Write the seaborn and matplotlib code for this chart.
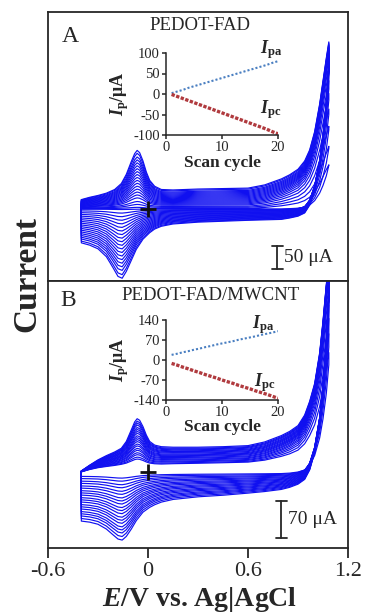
import numpy as np
import pandas as pd
import matplotlib
matplotlib.use('Agg')
import matplotlib.pyplot as plt
import seaborn as sns

# ---- inset data: peak currents per scan cycle ----
CYCLES = list(range(1, 21))
IPA_A = [2, 6, 10, 15, 19, 23, 27, 31, 35, 39, 43, 47, 51, 55, 59, 63, 67, 71, 76, 80]
IPC_A = [-1, -6, -11, -16, -21, -26, -31, -36, -41, -46, -51, -56, -61, -66, -71, -76, -81, -86, -92, -97]
IPA_B = [18, 22, 27, 31, 36, 40, 45, 49, 54, 58, 62, 66, 71, 75, 79, 83, 88, 92, 96, 101]
IPC_B = [-12, -18, -25, -31, -38, -44, -51, -57, -63, -70, -76, -82, -89, -95, -101, -108, -114, -120, -127, -134]

# monomer oxidation tail, relative size per cycle
TAIL_SCALE_A = [0.30, 0.42, 0.55, 0.66, 0.76, 0.84, 0.90, 0.94, 0.97, 0.99,
                1.0, 1.0, 1.0, 1.0, 1.0, 1.0, 1.0, 1.0, 1.0, 1.0]
TAIL_SCALE_B = [0.60, 0.70, 0.78, 0.85, 0.90, 0.94, 0.97, 0.99, 1.0, 1.0,
                1.0, 1.0, 1.0, 1.0, 1.0, 1.0, 1.0, 1.0, 1.0, 1.0]

# ---- CV profiles (uA) ----
E_FWD = [-0.40, -0.35, -0.30, -0.25, -0.20, -0.16, -0.13, -0.10, -0.08, -0.065,
         -0.05, -0.03, -0.01, 0.01, 0.04, 0.08, 0.15, 0.30, 0.45, 0.60,
         0.70, 0.80, 0.85, 0.90, 0.94, 0.97, 1.00, 1.03, 1.05, 1.07, 1.085]
E_REV = [1.085, 1.07, 1.05, 1.03, 1.00, 0.97, 0.94, 0.90, 0.85, 0.80,
         0.70, 0.60, 0.45, 0.30, 0.15, 0.08, 0.04, 0.01, -0.03, -0.07,
         -0.10, -0.13, -0.155, -0.18, -0.21, -0.25, -0.30, -0.35, -0.40]

FILM_A_FWD = [20, 25, 29, 34, 42, 55, 75, 103, 120, 127,
              122, 104, 80, 62, 49, 42, 41, 43, 44, 45,
              46, 47, 47, 48, 48, 48, 48, 48, 48, 48, 48]
TAIL_A_FWD = [0] * 20 + [6, 18, 27, 38, 56, 80, 120, 180, 230, 280, 315]
FILM_A_REV = [-14, -17, -19, -20, -20, -20, -21, -21, -22, -23,
              -24, -25, -27, -29, -33, -38, -44, -52, -66, -88,
              -112, -136, -151, -147, -128, -104, -87, -79, -74]
TAIL_A_REV = [315, 240, 170, 115, 60, 28, 12, 5, 2, 0] + [0] * 19

FILM_B_FWD = [2, 10, 18, 25, 31, 37, 50, 72, 87, 93,
              90, 78, 62, 50, 43, 40, 38, 37, 37, 38,
              40, 41, 41, 41, 41, 41, 41, 41, 41, 41, 41]
BASE_B_FWD = [0, 3, 5, 6, 7, 8, 8, 8, 8, 8,
              8, 8, 8, 8, 8, 8, 9, 10, 11, 12,
              13, 14, 14, 15, 15, 15, 15, 15, 15, 15, 15]
TAIL_B_FWD = [0] * 20 + [4, 14, 22, 32, 52, 78, 112, 170, 230, 300, 340]
FILM_B_REV = [-8, -10, -13, -15, -18, -21, -24, -27, -30, -33,
              -37, -40, -44, -47, -52, -57, -62, -67, -76, -92,
              -108, -122, -129, -127, -119, -108, -99, -95, -93]
TAIL_B_REV = [340, 250, 170, 110, 55, 25, 10, 4, 1, 0] + [0] * 19

CV_BLUE = '#1010f0'
INK = '#262626'


def build_cycles(film_fwd, tail_fwd, film_rev, tail_rev, ipa, ipc, tail_scale, base_fwd=None):
    fa = np.asarray(ipa, float) / ipa[-1]
    fc = np.asarray(ipc, float) / ipc[-1]
    film_fwd = np.asarray(film_fwd, float)
    film_rev = np.asarray(film_rev, float)
    tail_fwd = np.asarray(tail_fwd, float)
    tail_rev = np.asarray(tail_rev, float)
    base = np.zeros_like(film_fwd) if base_fwd is None else np.asarray(base_fwd, float)
    frames = []
    for n, cyc in enumerate(CYCLES):
        i_fwd = base + fa[n] * film_fwd + tail_scale[n] * tail_fwd
        i_rev = fc[n] * film_rev + tail_scale[n] * tail_rev
        e = np.concatenate([E_FWD, E_REV, [E_FWD[0]]])
        i = np.concatenate([i_fwd, i_rev, [i_fwd[0]]])
        frames.append(pd.DataFrame({'E': e, 'I': i, 'cycle': cyc}))
    return pd.concat(frames, ignore_index=True)


def draw_cv(ax, df, ylim, bar_x, bar_lo, bar_hi, bar_text):
    sns.lineplot(data=df, x='E', y='I', units='cycle', estimator=None, sort=False,
                 color=CV_BLUE, lw=0.85, ax=ax, legend=False)
    ax.plot(0, 0, marker='+', ms=11, mew=2, color='#111111', zorder=5)
    ax.plot([bar_x, bar_x], [bar_lo, bar_hi], color=INK, lw=1.3)
    for y in (bar_lo, bar_hi):
        ax.plot([bar_x - 0.033, bar_x + 0.033], [y, y], color=INK, lw=1.3)
    ax.text(bar_x + 0.045, (bar_lo + bar_hi) / 2, bar_text, fontsize=14,
            ha='left', va='center', color=INK)
    ax.set_xlim(-0.6, 1.2)
    ax.set_ylim(*ylim)
    ax.set_xlabel('')
    ax.set_ylabel('')
    ax.set_yticks([])
    for sp in ax.spines.values():
        sp.set_linewidth(1.3)
        sp.set_color(INK)


def draw_inset(ax, ipa, ipc, lim, yticks):
    sns.lineplot(x=CYCLES, y=ipa, ax=ax, color='#4a7fc1', lw=1.5,
                 linestyle=(0, (1, 1)))
    sns.lineplot(x=CYCLES, y=ipc, ax=ax, color='#b03a3e', lw=2.4,
                 linestyle=(0, (1, 0.45)))
    ax.set_xlim(0, 20)
    ax.set_ylim(-lim, lim)
    ax.set_xticks([0, 10, 20])
    ax.set_yticks(yticks)
    ax.set_yticklabels([str(t) for t in yticks])
    ax.patch.set_alpha(0)
    sns.despine(ax=ax)
    for sp in ('left', 'bottom'):
        ax.spines[sp].set_linewidth(1.1)
        ax.spines[sp].set_color(INK)
    ax.tick_params(direction='out', length=3, width=1.1, labelsize=10.5, pad=1.5,
                   colors=INK, left=True, bottom=True)
    ax.set_xlabel('Scan cycle', fontsize=12.5, fontweight='bold', color=INK)
    ax.set_ylabel(r'$I_{\mathbf{p}}$/μA', fontsize=13, fontweight='bold', color=INK)
    ax.xaxis.set_label_coords(0.5, -0.24)
    ax.yaxis.set_label_coords(-0.31, 0.5)


sns.set_theme(style='white')
plt.rcParams['font.family'] = ['Liberation Serif', 'DejaVu Serif']
plt.rcParams['mathtext.fontset'] = 'custom'
plt.rcParams['mathtext.rm'] = 'Liberation Serif'
plt.rcParams['mathtext.it'] = 'Liberation Serif:italic:bold'
plt.rcParams['mathtext.bf'] = 'Liberation Serif:bold'
plt.rcParams['axes.unicode_minus'] = False

W, H = 365, 614
fig = plt.figure(figsize=(W / 100, H / 100), dpi=100)


def fx(px):
    return px / W


def fy(py):
    return 1 - py / H


ax_a = fig.add_axes([fx(48), fy(281), fx(300), (281 - 12) / H])
ax_b = fig.add_axes([fx(48), fy(548), fx(300), (548 - 281) / H])

df_a = build_cycles(FILM_A_FWD, TAIL_A_FWD, FILM_A_REV, TAIL_A_REV,
                    IPA_A, IPC_A, TAIL_SCALE_A)
df_b = build_cycles(FILM_B_FWD, TAIL_B_FWD, FILM_B_REV, TAIL_B_REV,
                    IPA_B, IPC_B, TAIL_SCALE_B, base_fwd=BASE_B_FWD)

draw_cv(ax_a, df_a, (-157, 428), 0.774, -130, -80, '50 μA')
draw_cv(ax_b, df_b, (-144, 362), 0.798, -125, -55, '70 μA')

ax_a.set_xticks([])
ax_b.set_xticks([-0.6, 0, 0.6, 1.2])
ax_b.set_xticklabels(['-0.6', '0', '0.6', '1.2'])
ax_b.tick_params(axis='x', direction='out', length=7, width=1.3, labelsize=16,
                 pad=3, colors=INK, bottom=True)

ins_a = fig.add_axes([fx(166), fy(135), fx(112), 82 / H])
ins_b = fig.add_axes([fx(166), fy(400), fx(112), 80 / H])
draw_inset(ins_a, IPA_A, IPC_A, 100, [-100, -50, 0, 50, 100])
draw_inset(ins_b, IPA_B, IPC_B, 140, [-140, -70, 0, 70, 140])

# labels in figure pixels
fig.text(fx(70), fy(36), 'A', fontsize=17, ha='center', va='center', color=INK)
fig.text(fx(200), fy(25), 'PEDOT-FAD', fontsize=13.5, ha='center', va='center', color=INK)
fig.text(fx(68), fy(301), 'B', fontsize=17, ha='center', va='center', color=INK)
fig.text(fx(211), fy(295), 'PEDOT-FAD/MWCNT', fontsize=13.5, ha='center', va='center', color=INK)

fig.text(fx(271), fy(50), r'$I_{\mathbf{pa}}$', fontsize=13, ha='center', va='center', color=INK)
fig.text(fx(271), fy(110), r'$I_{\mathbf{pc}}$', fontsize=13, ha='center', va='center', color=INK)
fig.text(fx(263), fy(325), r'$I_{\mathbf{pa}}$', fontsize=13, ha='center', va='center', color=INK)
fig.text(fx(265), fy(383), r'$I_{\mathbf{pc}}$', fontsize=13, ha='center', va='center', color=INK)

fig.text(fx(27), fy(274), 'Current', fontsize=24, fontweight='bold', rotation=90,
         ha='center', va='center', color=INK)
fig.text(fx(200), fy(599), r'$E$/V vs. Ag|AgCl', fontsize=20, fontweight='bold',
         ha='center', va='center', color=INK)

fig.savefig('out.png', dpi=100)
plt.close('all')
